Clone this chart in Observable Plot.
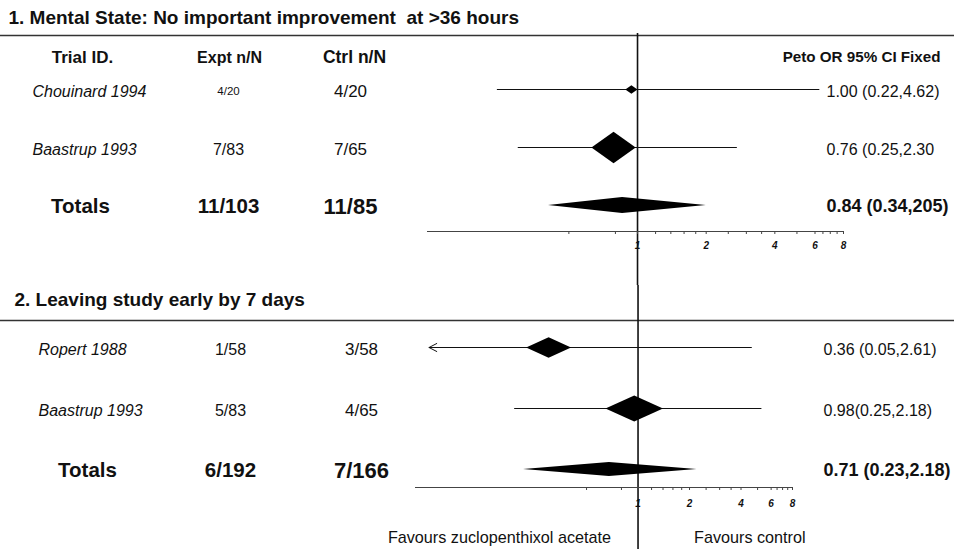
<!DOCTYPE html>
<html><head><meta charset="utf-8">
<script src="https://cdn.jsdelivr.net/npm/d3@7"></script>
<script src="https://cdn.jsdelivr.net/npm/@observablehq/plot@0.6"></script>
<style>
html,body{margin:0;padding:0;background:#fff;}
#chart svg{display:block;}
#chart text{white-space:pre;}
</style></head><body><div id="chart"></div>
<script>
// ---------- data ----------
const headerLabels = ["Trial ID.", "Expt n/N", "Ctrl n/N", "Peto OR 95% CI Fixed"];
const tickValues = [0.5, 0.8, 1, 1.2, 1.4, 1.6, 1.8, 2, 2.5, 3, 3.5, 4, 5, 6, 6.5, 7, 7.5, 8];
const tickLabels = [1, 2, 4, 6, 8];
const footerLabels = ["Favours zuclopenthixol acetate", "Favours control"];

// Panel 1
const p1Title = "1. Mental State: No important improvement  at >36 hours";
const p1Studies = ["Chouinard 1994", "Baastrup 1993", "Totals"];
const p1Expt = ["4/20", "7/83", "11/103"];
const p1Ctrl = ["4/20", "7/65", "11/85"];
const p1Labels = ["1.00 (0.22,4.62)", "0.76 (0.25,2.30", "0.84 (0.34,205)"];
const p1Est = [0.94, 0.785, 0.86];   // as drawn
const p1Lo = [0.243, 0.30, 0.407];
const p1Hi = [6.3, 2.74, 2.0];
const p1Box = [7, 93, null];          // relative box area
const p1Clipped = [false, false, false];
const p1Domain = [0.12, 8];

// Panel 2
const p2Title = "2. Leaving study early by 7 days";
const p2Studies = ["Ropert 1988", "Baastrup 1993", "Totals"];
const p2Expt = ["1/58", "5/83", "6/192"];
const p2Ctrl = ["3/58", "4/65", "7/166"];
const p2Labels = ["0.36 (0.05,2.61)", "0.98(0.25,2.18)", "0.71 (0.23,2.18)"];
const p2Est = [0.30, 0.95, 0.68];
const p2Lo = [0.06, 0.19, 0.214];
const p2Hi = [4.6, 5.3, 2.21];
const p2Box = [61, 100, null];
const p2Clipped = [true, false, false];
const p2Domain = [0.05, 8];

// ---------- drawing ----------
const FONT = "'Liberation Sans', Arial, sans-serif";
const INK = "#111";

function wideDiamond(aspect) {
  const k = Math.sqrt(aspect);
  return {
    draw(ctx, size) {
      const r = Math.sqrt(size / Math.PI);
      const w = r * k, h = r / k;
      ctx.moveTo(-w, 0); ctx.lineTo(0, -h); ctx.lineTo(w, 0); ctx.lineTo(0, h); ctx.closePath();
    }
  };
}

function panel(o) {
  const step = (o.rowPx[1] - o.rowPx[0]) / 2;
  const slot = px => 1 + (px - o.rowPx[0]) / step;
  const rows = o.studies.map((s, i) => ({
    row: i + 1, study: s, expt: o.expt[i], ctrl: o.ctrl[i], label: o.labels[i],
    est: o.est[i], lo: o.lo[i], hi: o.hi[i], box: o.box[i], clipped: o.clipped[i],
    total: s === "Totals"
  }));
  const trials = rows.filter(d => !d.total);
  const totals = rows.filter(d => d.total);
  const hh = o.totalHalfPx / step;
  const totalArea = totals.flatMap(d => [
    {row: d.row, x: d.lo, y1: d.row, y2: d.row},
    {row: d.row, x: d.est, y1: d.row - hh, y2: d.row + hh},
    {row: d.row, x: d.hi, y1: d.row, y2: d.row}
  ]);
  const txt = (data, opts) => Plot.text(data, {frameAnchor: "left", lineAnchor: "middle", fill: INK, ...opts});
  const ticks = tickValues.filter(v => v >= o.domain[0] && v <= o.domain[1]);

  const marks = [
    txt([o.title], {text: d => d, y: slot(o.titleY), dx: o.titleX, textAnchor: "start", fontWeight: "bold", fontSize: 19}),
    Plot.ruleY([slot(o.dividerY)], {stroke: "#333", strokeWidth: 1.6}),
    Plot.ruleX([1], {y1: slot(o.vTop), y2: slot(o.height), stroke: INK, strokeWidth: 1.6}),
  ];
  if (o.header) {
    marks.push(
      txt([headerLabels[0]], {text: d => d, y: slot(o.headerY), dx: 82, textAnchor: "middle", fontWeight: "bold", fontSize: 17}),
      txt([headerLabels[1]], {text: d => d, y: slot(o.headerY), dx: 229, textAnchor: "middle", fontWeight: "bold", fontSize: 16}),
      txt([headerLabels[2]], {text: d => d, y: slot(o.headerY), dx: 354, textAnchor: "middle", fontWeight: "bold", fontSize: 17.5}),
      Plot.text([headerLabels[3]], {text: d => d, frameAnchor: "right", y: slot(o.headerY), dx: -14, textAnchor: "end", fontWeight: "bold", fontSize: 15.2, fill: INK})
    );
  }
  marks.push(
    txt(trials, {y: "row", text: "study", dx: o.colStudy, dy: 2, textAnchor: "start", fontStyle: "italic", fontSize: 16}),
    txt(totals, {y: "row", text: "study", dx: o.colTotals, dy: 1, textAnchor: "middle", fontWeight: "bold", fontSize: 20.5}),
    txt(trials, {y: "row", text: "expt", dx: o.colExpt, dy: 2, textAnchor: "middle", fontSize: (d, i) => (o.smallExpt.includes(i) ? 11.5 : 16)}),
    txt(totals, {y: "row", text: "expt", dx: o.colExpt, dy: 1, textAnchor: "middle", fontWeight: "bold", fontSize: 20.5}),
    txt(trials, {y: "row", text: "ctrl", dx: o.colCtrl, dy: 2, textAnchor: "middle", fontSize: 17}),
    txt(totals, {y: "row", text: "ctrl", dx: o.colCtrl, dy: 1, textAnchor: "middle", fontWeight: "bold", fontSize: 22}),
    txt(trials, {y: "row", text: "label", dx: o.colLabel, dy: 2, textAnchor: "start", fontSize: 16}),
    txt(totals, {y: "row", text: "label", dx: o.colLabel, dy: 1, textAnchor: "start", fontWeight: "bold", fontSize: 18}),
    Plot.ruleY(trials.filter(d => !d.clipped), {y: "row", x1: "lo", x2: "hi", stroke: INK, strokeWidth: 1}),
    Plot.arrow(trials.filter(d => d.clipped), {x1: "hi", y1: "row", x2: "lo", y2: "row", stroke: INK, strokeWidth: 1, headLength: 13, headAngle: 55}),
    Plot.dot(trials, {x: "est", y: "row", r: "box", symbol: wideDiamond(o.aspect), fill: "black", stroke: "none"}),
    Plot.areaY(totalArea, {x: "x", y1: "y1", y2: "y2", z: "row", fill: "black", curve: "linear"}),
    Plot.ruleY([slot(o.axisY)], {x1: o.domain[0], x2: o.domain[1], stroke: "#444", strokeWidth: 1}),
    Plot.ruleX(ticks, {x: d => d, y1: slot(o.axisY), y2: slot(o.axisY + 3), stroke: "#444", strokeWidth: 1}),
    Plot.text(tickLabels, {x: d => d, y: slot(o.tickY), text: d => String(d), fontStyle: "italic", fontWeight: "bold", fontSize: 10, fill: INK})
  );
  if (o.footer) {
    marks.push(
      Plot.text([footerLabels[0]], {x: 1, y: slot(o.footerY), text: d => d, dx: -27, textAnchor: "end", fontSize: 16.2, fill: INK}),
      Plot.text([footerLabels[1]], {x: 1, y: slot(o.footerY), text: d => d, dx: 56, textAnchor: "start", fontSize: 16.2, fill: INK})
    );
  }
  return Plot.plot({
    width: 954, height: o.height,
    marginLeft: 0, marginRight: 0, marginTop: 0, marginBottom: 0,
    style: {fontFamily: FONT, background: "white", color: INK, overflow: "visible"},
    x: {type: "log", domain: o.domain, range: o.xRange, axis: null},
    y: {type: "linear", domain: [1, 3], range: o.rowPx, axis: null},
    r: {type: "sqrt", domain: [0, 100], range: [0, 19.4]},
    marks
  });
}

const chart = document.getElementById("chart");
chart.append(panel({
  title: p1Title, studies: p1Studies, expt: p1Expt, ctrl: p1Ctrl, labels: p1Labels,
  est: p1Est, lo: p1Lo, hi: p1Hi, box: p1Box, clipped: p1Clipped, domain: p1Domain,
  xRange: [427, 843], rowPx: [89, 205], height: 285,
  titleX: 8, titleY: 17, dividerY: 35, headerY: 57, vTop: 33, axisY: 231, tickY: 245,
  header: true, footer: false, aspect: 1.4, totalHalfPx: 8,
  colStudy: 32, colTotals: 80, colExpt: 228, colCtrl: 350, colLabel: 826, smallExpt: [0]
}));
chart.append(panel({
  title: p2Title, studies: p2Studies, expt: p2Expt, ctrl: p2Ctrl, labels: p2Labels,
  est: p2Est, lo: p2Lo, hi: p2Hi, box: p2Box, clipped: p2Clipped, domain: p2Domain,
  xRange: [415, 792], rowPx: [62, 184], height: 264,
  titleX: 14, titleY: 14, dividerY: 35, headerY: 0, vTop: 0, axisY: 202, tickY: 218, footerY: 252,
  header: false, footer: true, aspect: 2.2, totalHalfPx: 7,
  colStudy: 38, colTotals: 87, colExpt: 230, colCtrl: 361, colLabel: 823, smallExpt: []
}));
</script></body></html>
